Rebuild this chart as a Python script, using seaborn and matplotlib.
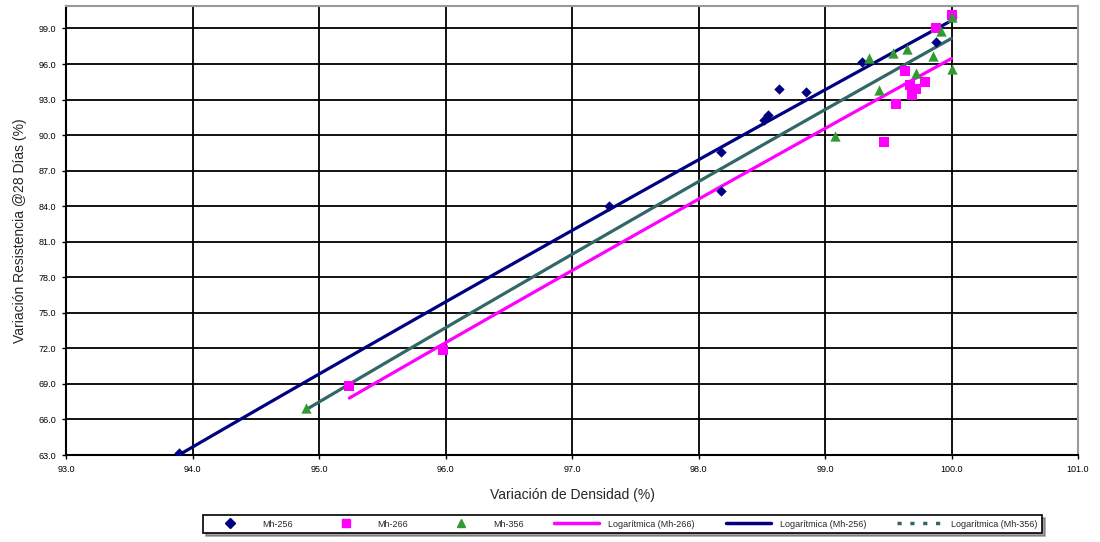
import matplotlib
matplotlib.use("Agg")
import matplotlib.pyplot as plt
from matplotlib.lines import Line2D
import numpy as np
import pandas as pd
import seaborn as sns

# Mh-256 (rombos azules)
x_256 = [93.89, 97.29, 98.18, 98.18, 98.52, 98.55, 98.64, 98.85, 99.29, 99.88, 100.0]
y_256 = [63.2, 84.0, 85.3, 88.6, 91.25, 91.7, 93.9, 93.6, 96.2, 97.85, 100.0]

# Mh-266 (cuadrados magenta)
x_266 = [95.24, 95.98, 99.47, 99.56, 99.63, 99.67, 99.69, 99.72, 99.79, 99.88, 100.0]
y_266 = [68.8, 71.85, 89.4, 92.6, 95.4, 94.2, 93.35, 93.9, 94.5, 99.0, 100.1]

# Mh-356 (triangulos verdes)
x_356 = [94.90, 99.08, 99.35, 99.43, 99.54, 99.65, 99.72, 99.85, 99.92, 100.0, 100.0]
y_356 = [67.0, 89.9, 96.5, 93.8, 96.9, 97.3, 95.2, 96.7, 98.8, 100.0, 95.6]

labels = ["Mh-256", "Mh-266", "Mh-356"]
trend_labels = ["Logarítmica (Mh-266)", "Logarítmica (Mh-256)", "Logarítmica (Mh-356)"]

x_ticks = [93.0, 94.0, 95.0, 96.0, 97.0, 98.0, 99.0, 100.0, 101.0]
y_ticks = [63.0, 66.0, 69.0, 72.0, 75.0, 78.0, 81.0, 84.0, 87.0, 90.0, 93.0, 96.0, 99.0]

colors = {"Mh-256": "#000080", "Mh-266": "#FF00FF", "Mh-356": "#339933"}
trend_colors = {"Mh-256": "#000080", "Mh-266": "#FF00FF", "Mh-356": "#336666"}
markers = {"Mh-256": "D", "Mh-266": "s", "Mh-356": "^"}
sizes = {"Mh-256": 28, "Mh-266": 50, "Mh-356": 55}


def log_trend(x, y):
    # ajuste logaritmico como el de Excel: y = a*ln(x) + b
    a, b = np.polyfit(np.log(x), y, 1)
    xs = np.linspace(min(x), max(x), 100)
    return xs, a * np.log(xs) + b


sns.set_style("white")
plt.rcParams['font.family'] = ['Liberation Sans', 'DejaVu Sans']

df = pd.concat([
    pd.DataFrame({"x": x_256, "y": y_256, "serie": "Mh-256"}),
    pd.DataFrame({"x": x_266, "y": y_266, "serie": "Mh-266"}),
    pd.DataFrame({"x": x_356, "y": y_356, "serie": "Mh-356"}),
])

fig = plt.figure(figsize=(11, 5.42), dpi=100)
ax = fig.add_axes([0.06, 0.1605, 0.92, 0.8285])

for name in labels:
    sub = df[df.serie == name]
    xs, ys = log_trend(sub.x.values, sub.y.values)
    sns.lineplot(x=xs, y=ys, ax=ax, color=trend_colors[name], linewidth=2.3,
                 zorder=3, legend=False)

for name in labels:
    sub = df[df.serie == name]
    sns.scatterplot(data=sub, x="x", y="y", ax=ax, marker=markers[name],
                    color=colors[name], s=sizes[name], linewidth=0, zorder=4,
                    legend=False)

ax.set_xlim(93, 101)
ax.set_ylim(63, 100.9)
ax.set_xticks(x_ticks)
ax.set_yticks(y_ticks)
ax.set_xticklabels([f"{v:.1f}" for v in x_ticks])
ax.set_yticklabels([f"{v:.1f}" for v in y_ticks])
ax.grid(True, color="black", linewidth=1.3)
ax.set_axisbelow(True)
ax.tick_params(axis="both", labelsize=6.5, length=3, width=1, direction="out",
               colors="black", pad=4)
ax.tick_params(bottom=True, left=True)
for side in ["left", "bottom"]:
    ax.spines[side].set_color("black")
    ax.spines[side].set_linewidth(1.5)
for side in ["top", "right"]:
    ax.spines[side].set_color("#999999")
    ax.spines[side].set_linewidth(1.5)

ax.set_xlabel("Variación de Densidad (%)", fontsize=10, labelpad=10)
ax.set_ylabel("Variación Resistencia @28 Días (%)", fontsize=10, labelpad=8)

handles = [
    Line2D([], [], linestyle="none", marker="D", color=colors["Mh-256"], markersize=5),
    Line2D([], [], linestyle="none", marker="s", color=colors["Mh-266"], markersize=6),
    Line2D([], [], linestyle="none", marker="^", color=colors["Mh-356"], markersize=6),
    Line2D([], [], color=trend_colors["Mh-266"], linewidth=2.5),
    Line2D([], [], color=trend_colors["Mh-256"], linewidth=2.5),
    Line2D([], [], color=trend_colors["Mh-356"], linewidth=2.5, linestyle=(0, (1.2, 2.5))),
]
leg = fig.legend(handles, labels + trend_labels, loc="center",
                 bbox_to_anchor=(0.566, 0.033),
                 ncol=6, fontsize=6.5, frameon=True, fancybox=False, shadow=True,
                 handlelength=5, columnspacing=3.4, borderpad=0.5, handletextpad=1.0)
leg.get_frame().set_edgecolor("black")
leg.get_frame().set_linewidth(1.2)

fig.savefig("out.png", dpi=100)
